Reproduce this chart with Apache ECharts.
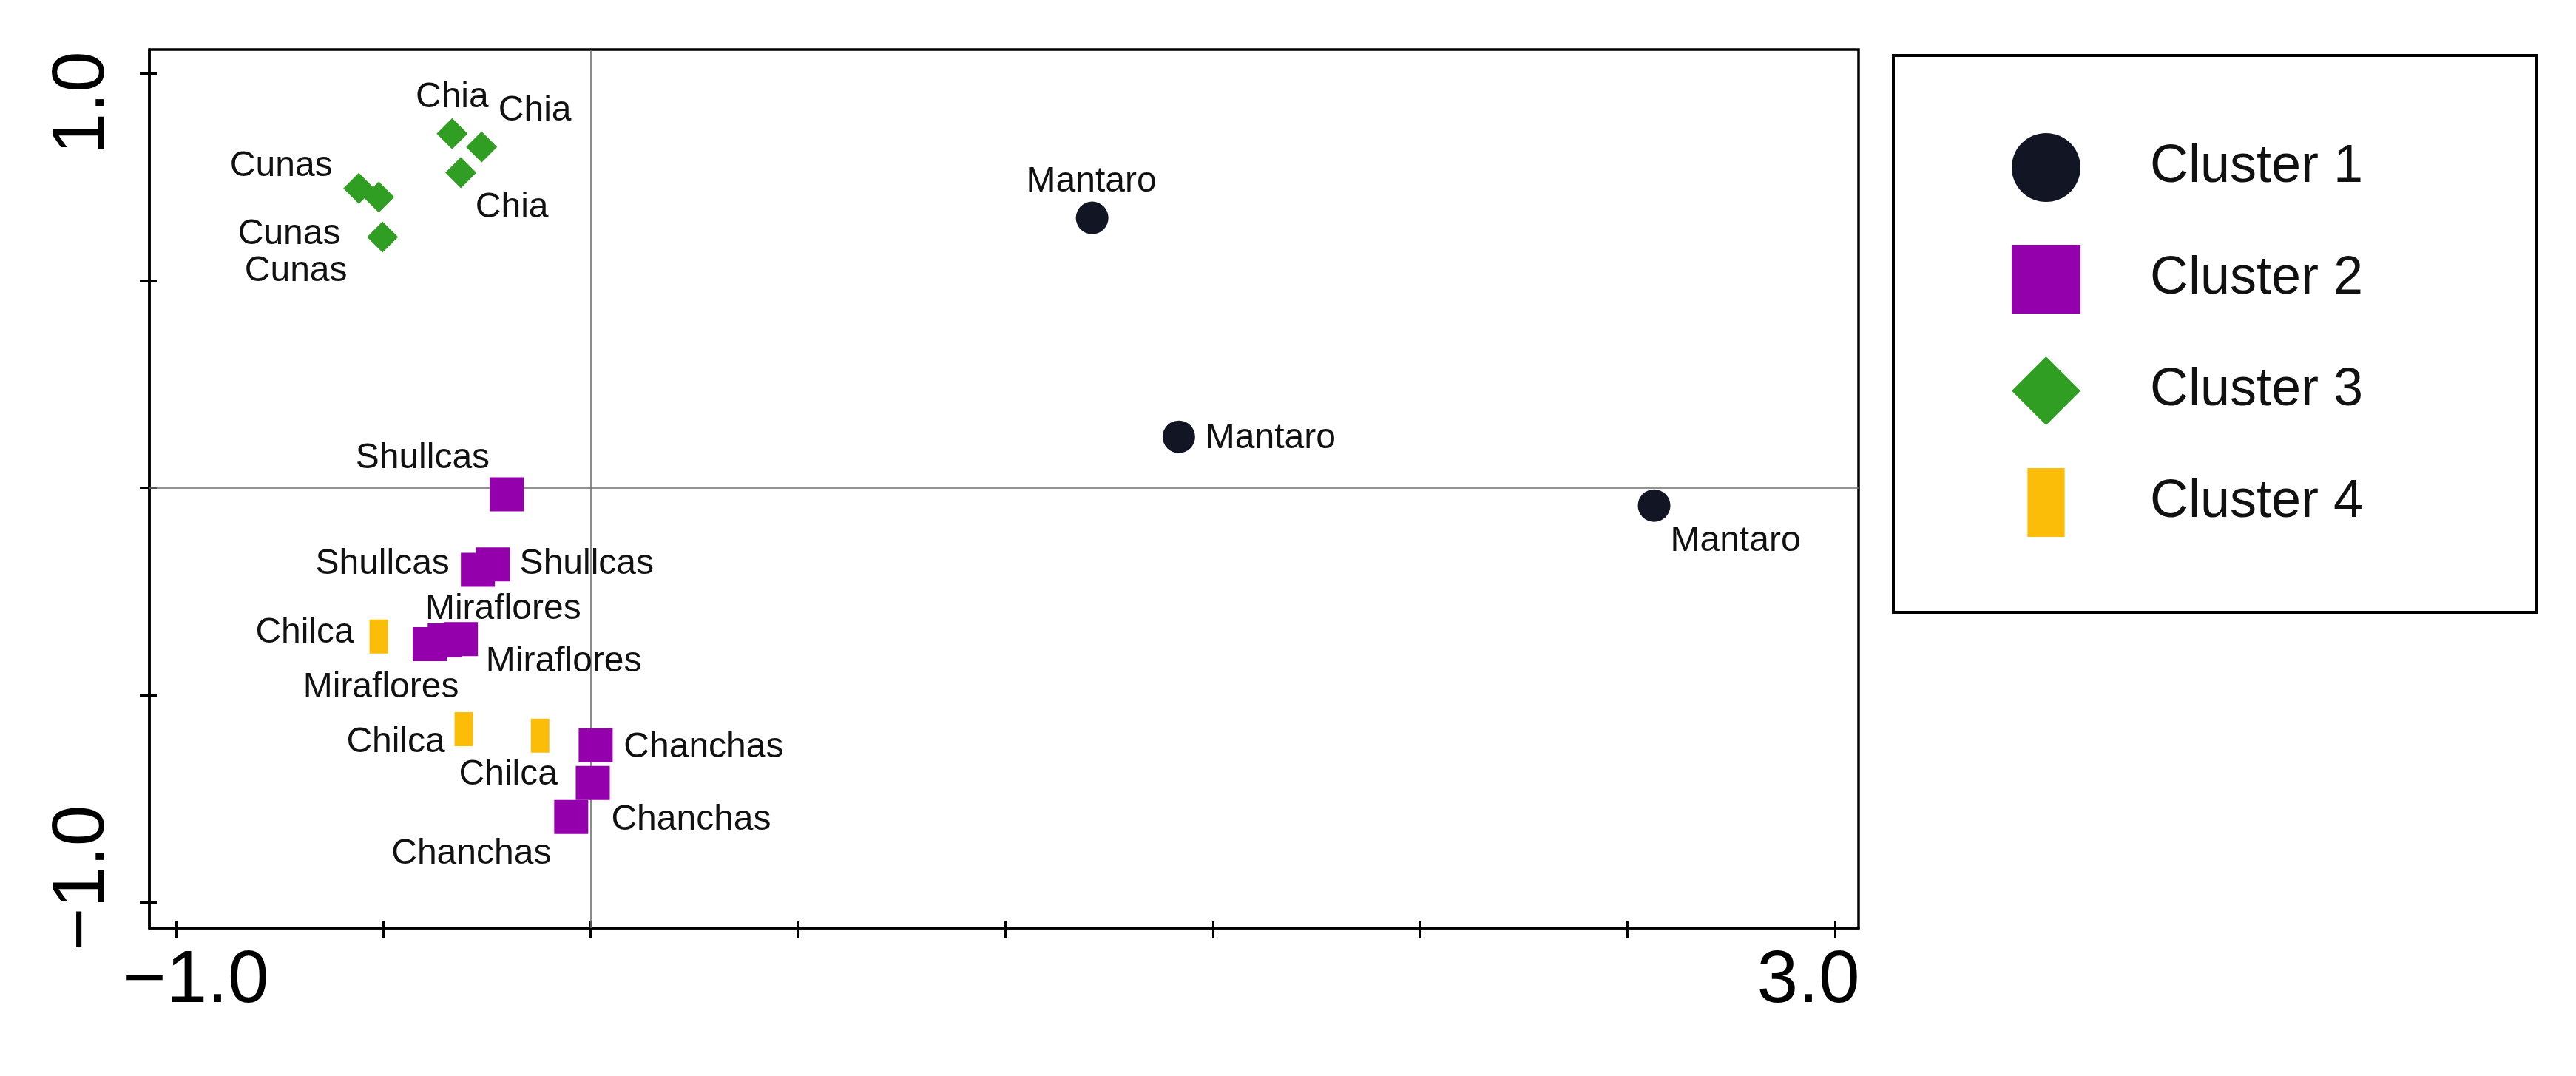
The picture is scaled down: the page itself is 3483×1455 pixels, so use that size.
<!DOCTYPE html>
<html>
<head>
<meta charset="utf-8">
<script src="https://cdn.jsdelivr.net/npm/echarts@6/dist/echarts.min.js"></script>
<style>
  html, body { margin: 0; padding: 0; background: #fff; }
  #chart { width: 3483px; height: 1455px; }
</style>
</head>
<body>
<div id="chart"></div>
<script>
// cluster data (x = axis 1, y = axis 2)
const clusterNames = ['Cluster 1', 'Cluster 2', 'Cluster 3', 'Cluster 4'];

const c1Names = ['Mantaro', 'Mantaro', 'Mantaro'];
const c1X = [1.209, 1.418, 2.564];
const c1Y = [0.651, 0.123, -0.043];

const c2Names = ['Shullcas', 'Shullcas', 'Shullcas', 'Miraflores', 'Miraflores', 'Miraflores', 'Chanchas', 'Chanchas', 'Chanchas'];
const c2X = [-0.202, -0.272, -0.236, -0.388, -0.352, -0.313, 0.012, 0.005, -0.047];
const c2Y = [-0.016, -0.198, -0.185, -0.377, -0.368, -0.365, -0.621, -0.712, -0.794];

const c3Names = ['Chia', 'Chia', 'Chia', 'Cunas', 'Cunas', 'Cunas'];
const c3X = [-0.334, -0.263, -0.313, -0.559, -0.511, -0.502];
const c3Y = [0.854, 0.822, 0.760, 0.722, 0.701, 0.605];

const c4Names = ['Chilca', 'Chilca', 'Chilca'];
const c4X = [-0.511, -0.306, -0.122];
const c4Y = [-0.359, -0.582, -0.598];

const tickValues = [-1, -0.5, 0, 0.5, 1, 1.5, 2, 2.5, 3];
const yTickValues = [-1, -0.5, 0, 0.5, 1];
const xLabelValues = [-1, 3];
const yLabelValues = [-1, 1];

// label offsets (px) from each marker centre
const c1Off = [[-1, -49], [124, 2], [110, 48]];
const c2Off = [[-114, -49], [-129, -8], [127, -1], [-66, 59], [79, -42], [139, 31], [146, 3], [133, 50], [-135, 50]];
const c3Off = [[0, -49], [72, -49], [69, 47], [-105, -30], [-121, 50], [-117, 46]];
const c4Off = [[-100, -5], [-92, 18], [-43, 53]];

const FONT = '"Liberation Sans", Arial, sans-serif';

function points(names, xs, ys, offs) {
    return names.map((n, i) => ({
        name: n,
        value: [xs[i], ys[i]],
        label: { offset: offs[i] }
    }));
}

const pointLabel = {
    show: true,
    position: 'inside',
    formatter: p => p.name,
    fontFamily: FONT,
    fontSize: 48,
    color: '#111'
};

const chart = echarts.init(document.getElementById('chart'), null, { renderer: 'canvas' });

const axisFont = { fontFamily: FONT, fontSize: 100, color: '#000' };

chart.setOption({
    animation: false,
    backgroundColor: '#fff',
    grid: {
        left: 202, top: 67, width: 2311, height: 1188,
        show: true, borderColor: '#000', borderWidth: 3.5, backgroundColor: 'transparent'
    },
    legend: {
        orient: 'vertical',
        left: 2560, top: 75,
        padding: [105, 234, 102, 160],
        borderColor: '#000', borderWidth: 4,
        itemWidth: 93, itemHeight: 93, itemGap: 58,
        textStyle: { fontFamily: FONT, fontSize: 72, color: '#111', padding: [0, 0, 0, 89] },
        data: [
            { name: clusterNames[0], icon: 'circle' },
            { name: clusterNames[1], icon: 'rect' },
            { name: clusterNames[2], icon: 'diamond' },
            { name: clusterNames[3], icon: 'path://M0,0M100,100M23,0H77V100H23Z' }
        ]
    },
    xAxis: [
        {
            type: 'value', min: -1.064, max: 3.057, position: 'bottom',
            axisLine: { onZero: false, lineStyle: { color: '#000', width: 3.5 } },
            axisTick: { customValues: tickValues, length: 13, lineStyle: { color: '#000', width: 3 } },
            axisLabel: {
                customValues: xLabelValues, margin: 22,
                formatter: v => v < 0 ? '{a|\u22121.0}' : '{b|3.0}',
                rich: { a: Object.assign({ padding: [0, 0, 0, 54] }, axisFont), b: Object.assign({ padding: [0, 72, 0, 0] }, axisFont) }
            },
            splitLine: { show: false }
        },
        {
            type: 'value', min: -1.064, max: 3.057, position: 'bottom',
            axisLine: { show: false, onZero: false },
            axisTick: { inside: true, customValues: tickValues, length: 9, lineStyle: { color: '#000', width: 3 } },
            axisLabel: { show: false },
            splitLine: { show: false }
        }
    ],
    yAxis: [
        {
            type: 'value', min: -1.062, max: 1.057, position: 'left',
            axisLine: { onZero: false, lineStyle: { color: '#000', width: 3.5 } },
            axisTick: { customValues: yTickValues, length: 13, lineStyle: { color: '#000', width: 3 } },
            axisLabel: {
                customValues: yLabelValues, margin: 40, rotate: 90,
                formatter: v => v > 0 ? '{a|1.0}' : '{b|\u22121.0}',
                rich: { a: Object.assign({ padding: [0, 80, 0, 0] }, axisFont), b: Object.assign({ padding: [0, 0, 0, 66] }, axisFont) }
            },
            splitLine: { show: false }
        },
        {
            type: 'value', min: -1.062, max: 1.057, position: 'left',
            axisLine: { show: false, onZero: false },
            axisTick: { inside: true, customValues: yTickValues, length: 10, lineStyle: { color: '#000', width: 3 } },
            axisLabel: { show: false },
            splitLine: { show: false }
        }
    ],
    series: [
        {
            name: clusterNames[0], type: 'scatter', z: 5,
            symbol: 'circle', symbolSize: 44,
            itemStyle: { color: '#121624', opacity: 1 },
            label: pointLabel,
            data: points(c1Names, c1X, c1Y, c1Off),
            markLine: {
                silent: true, symbol: 'none', animation: false,
                label: { show: false },
                lineStyle: { color: '#6e6e6e', width: 1.6, type: 'solid' },
                data: [{ xAxis: 0 }, { yAxis: 0 }],
                z: 1
            }
        },
        {
            name: clusterNames[1], type: 'scatter', z: 5,
            symbol: 'rect', symbolSize: 46,
            itemStyle: { color: '#9500ad', opacity: 1 },
            label: pointLabel,
            data: points(c2Names, c2X, c2Y, c2Off)
        },
        {
            name: clusterNames[2], type: 'scatter', z: 5,
            symbol: 'diamond', symbolSize: 42,
            itemStyle: { color: '#2f9e22', opacity: 1 },
            label: pointLabel,
            data: points(c3Names, c3X, c3Y, c3Off)
        },
        {
            name: clusterNames[3], type: 'scatter', z: 5,
            symbol: 'rect', symbolSize: [25, 46],
            itemStyle: { color: '#fbbd08', opacity: 1 },
            label: pointLabel,
            data: points(c4Names, c4X, c4Y, c4Off)
        }
    ]
});
</script>
</body>
</html>
